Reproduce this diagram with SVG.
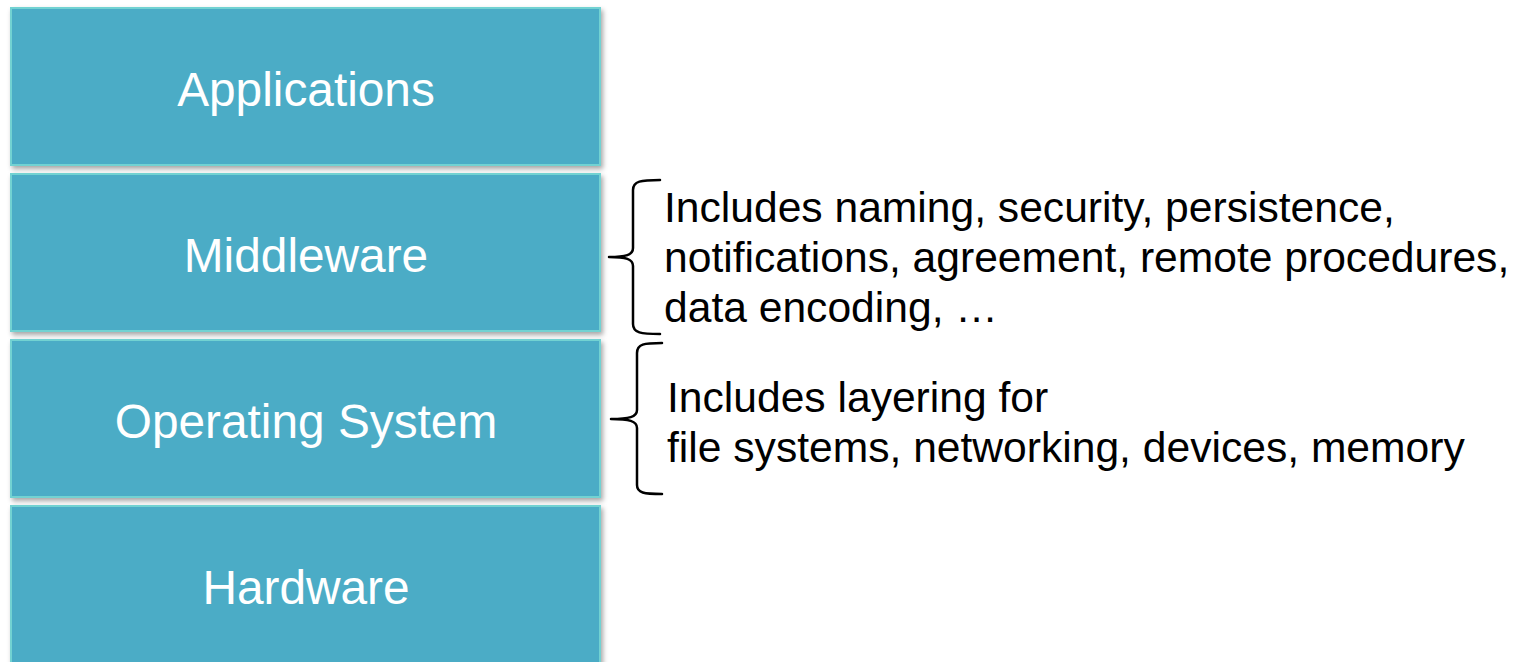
<svg xmlns="http://www.w3.org/2000/svg" width="1520" height="662" viewBox="0 0 1520 662">
  <defs>
    <filter id="shadow" x="-5%" y="-10%" width="110%" height="125%">
      <feDropShadow dx="2" dy="3" stdDeviation="2.5" flood-color="#000" flood-opacity="0.35"/>
    </filter>
  </defs>
  <style>
    .layer { fill: #4BACC6; stroke: #72D2D2; stroke-width: 2; filter: url(#shadow); }
    .layer-label { font-family: "Liberation Sans", Arial, sans-serif; font-size: 47.8px; fill: #FFFFFF; text-anchor: middle; }
    .note { font-family: "Liberation Sans", Arial, sans-serif; font-size: 42.6px; fill: #000000; }
    .brace { fill: none; stroke: #000000; stroke-width: 2.5; stroke-linecap: round; stroke-linejoin: round; }
  </style>
  <rect width="1520" height="662" fill="#FFFFFF"/>

  <!-- layer stack -->
  <g id="applications">
    <rect class="layer" x="11" y="8" width="589" height="157"/>
    <text class="layer-label" x="306" y="106">Applications</text>
  </g>
  <g id="middleware">
    <rect class="layer" x="11" y="174" width="589" height="157"/>
    <text class="layer-label" x="306" y="272">Middleware</text>
  </g>
  <g id="operating-system">
    <rect class="layer" x="11" y="340" width="589" height="157"/>
    <text class="layer-label" x="306" y="438">Operating System</text>
  </g>
  <g id="hardware">
    <rect class="layer" x="11" y="506" width="589" height="170"/>
    <text class="layer-label" x="306" y="604">Hardware</text>
  </g>

  <!-- braces linking layers to their notes -->
  <g id="connectors">
    <path class="brace" d="M660,180 C641,180 633,181 633,190 L633,248 C633,255 626,257 609,257 C626,257 633,259 633,266 L633,324 C633,333 641,334 660,334"/>
    <path class="brace" d="M662,343 C644,343 637,344 637,353 L637,410 C637,417 629,419 611,419 C629,419 637,421 637,428 L637,485 C637,493 644,494 662,494"/>
  </g>

  <g id="middleware-note">
    <text class="note" x="664" y="222">Includes naming, security, persistence,</text>
    <text class="note" x="664" y="272">notifications, agreement, remote procedures,</text>
    <text class="note" x="664" y="322">data encoding, …</text>
  </g>
  <g id="os-note">
    <text class="note" x="667" y="412">Includes layering for</text>
    <text class="note" x="667" y="462">file systems, networking, devices, memory</text>
  </g>
</svg>
